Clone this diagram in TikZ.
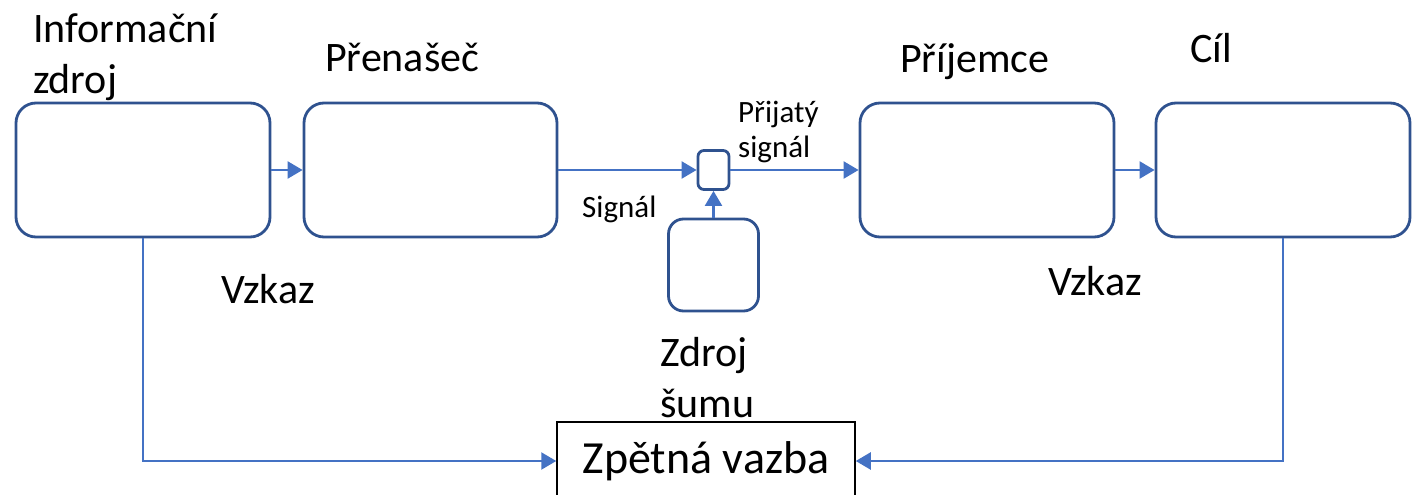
\documentclass[tikz,border=0pt]{standalone}
\usepackage{fontspec}
\setmainfont{Carlito}
\usetikzlibrary{arrows.meta}
\definecolor{boxblue}{HTML}{2F528F}
\definecolor{lineblue}{HTML}{4472C4}
\tikzset{blok/.style={draw=boxblue, line width=2.8pt, rounded corners=20pt, inner sep=0pt},
  sipka/.style={lineblue, line width=2.3pt, -{Triangle[length=15pt,width=17pt]}},
  popis/.style={inner sep=0pt, anchor=base west, align=left, font=\fontsize{42}{51}\selectfont},
  maly/.style={popis, font=\fontsize{31}{35}\selectfont}}

\begin{document}
\begin{tikzpicture}[x=1pt,y=-1pt]
  \useasboundingbox (0,0) rectangle (1414,495);
  \node[blok,minimum width=254pt,minimum height=134pt] (zdroj) at (143,170) {};
  \node[blok,minimum width=253pt,minimum height=134pt] (prenasec) at (430.5,170) {};
  \node[blok,minimum width=254pt,minimum height=134pt] (prijemce) at (987,170) {};
  \node[blok,minimum width=254pt,minimum height=134pt] (cil) at (1283,170) {};
  \node[blok,rounded corners=6pt,minimum width=31pt,minimum height=39pt] (mix) at (713.5,170) {};
  \node[blok,rounded corners=15pt,minimum width=90pt,minimum height=92pt] (sum) at (713.5,265) {};
  \node[draw,line width=1.5pt,minimum width=298pt,minimum height=78pt,
    font=\fontsize{46}{55}\selectfont] (vazba) at (706,461) {Zpětná vazba};
  \node[popis] (tzdroj) at (33,93) {Informační\\zdroj};
  \node[popis] (tprenasec) at (325,71) {Přenašeč};
  \node[popis] (tprijemce) at (900,73) {Příjemce};
  \node[popis] (tcil) at (1190,63) {Cíl};
  \node[popis] (tvzkaz) at (221,303) {Vzkaz};
  \node[popis] (tvzkaz2) at (1048,295) {Vzkaz};
  \node[popis] (tsum) at (660,417) {Zdroj\\šumu};
  \node[maly] (tsignal) at (582,217) {Signál};
  \node[maly] (tprijaty) at (738,157) {Přijatý\\signál};
  \draw[sipka] (zdroj.east) -- (prenasec.west);
  \draw[sipka] (prenasec.east) -- (mix.west);
  \draw[sipka] (sum.north) -- (mix.south);
  \draw[sipka] (mix.east) -- (prijemce.west);
  \draw[sipka] (prijemce.east) -- (cil.west);
  \draw[sipka] (zdroj.south) |- (vazba.west);
  \draw[sipka] (cil.south) |- (vazba.east);
\end{tikzpicture}
\end{document}
